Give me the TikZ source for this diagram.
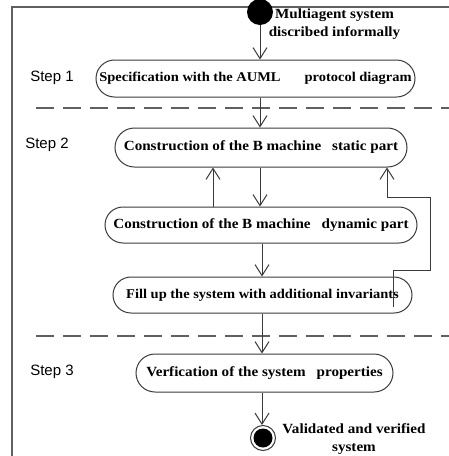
\documentclass[tikz,border=0pt]{standalone}
\usepackage{fontspec}
\setmainfont{Liberation Serif}
\newfontfamily\boxfont[FakeStretch=1.08]{Liberation Serif}
\newfontfamily\stepfont{Liberation Sans}
\usetikzlibrary{arrows.meta,calc}
\definecolor{lnc}{HTML}{3A3A3A}
\definecolor{frc}{HTML}{606060}
\tikzset{
  actbox/.style={draw=lnc, line width=1pt, inner sep=0pt, align=center,
    font=\boxfont\fontsize{14}{16}\selectfont\bfseries, text=black},
  smalltext/.style={font=\boxfont\fontsize{13.4}{16}\selectfont\bfseries},
  arr/.style={draw=lnc, line width=1pt, -{Straight Barb[length=11pt,width=14pt,line width=1pt]}},
  steplbl/.style={font=\stepfont\fontsize{15}{17}\selectfont, inner sep=0pt},
  lbl/.style={font=\boxfont\fontsize{14}{18}\selectfont\bfseries, align=center, inner sep=0pt},
  sepline/.style={draw=frc, line width=1.3pt, dash pattern=on 18pt off 9pt},
}
\begin{document}
\begin{tikzpicture}[x=1pt,y=-1pt]
\useasboundingbox (0,0) rectangle (449,456);
% frame
\draw[frc, line width=1.5pt] (12,456) -- (12,7) -- (449,7);
% separators
\draw[sepline] (36,108) -- (449,108);
\draw[sepline] (36,336) -- (449,336);
% start
\node[circle, fill=black, minimum size=26pt, inner sep=0pt] (start) at (260,12) {};
\node[lbl] (startlbl) at (334.5,24.5) {Multiagent system\\discribed informally};
% steps
\node[steplbl] (s1) at (52,78) {Step 1};
\node[steplbl] (s2) at (47,145) {Step 2};
\node[steplbl] (s3) at (52,372) {Step 3};
% boxes
\node[actbox, smalltext, minimum width=319pt, minimum height=37pt, rounded corners=18.5pt] (b1) at (255.5,78.5)
  {Specification with the AUML\hspace{24pt}protocol diagram};
\node[actbox, minimum width=292pt, minimum height=39pt, rounded corners=19.5pt] (b2) at (261,147.5)
  {Construction of the B machine\hspace{11pt}static part};
\node[actbox, minimum width=312pt, minimum height=36pt, rounded corners=18pt] (b3) at (261,225)
  {Construction of the B machine\hspace{11pt}dynamic part};
\node[actbox, smalltext, minimum width=299pt, minimum height=36pt, rounded corners=18pt] (b4) at (262.5,295)
  {Fill up the system with additional invariants};
\node[actbox, minimum width=257pt, minimum height=38pt, rounded corners=19pt] (b5) at (264.5,373)
  {Verfication of the system\hspace{11pt}properties};
% end
\node[circle, draw=lnc, line width=1pt, minimum size=25pt, inner sep=0pt] (endc) at (263,438) {};
\node[circle, fill=black, minimum size=19pt, inner sep=0pt] (endin) at (endc) {};
\node[lbl] (endlbl) at (354,439) {Validated and verified\\system};
% connectors
\draw[arr] (start) -- (b1.north -| start);
\draw[arr] (b1.south -| start) -- (b2.north -| start);
\draw[arr] (b2.south -| start) -- (b3.north -| start);
\draw[arr] (b3.north -| 213,0) -- (b2.south -| 213,0);
\draw[arr] (b3.south -| 262,0) -- (b4.north -| 262,0);
\draw[arr] (b4.south -| 262,0) -- (b5.north -| 262,0);
\draw[arr] (b5.south -| 262,0) -- (endc.north -| 262,0);
\coordinate (fb) at (393,307);
\draw[arr] (fb) -- (393,270) -- (430,270) -- (430,197) -- (387,197) -- (b2.south -| 387,0);
\end{tikzpicture}
\end{document}
